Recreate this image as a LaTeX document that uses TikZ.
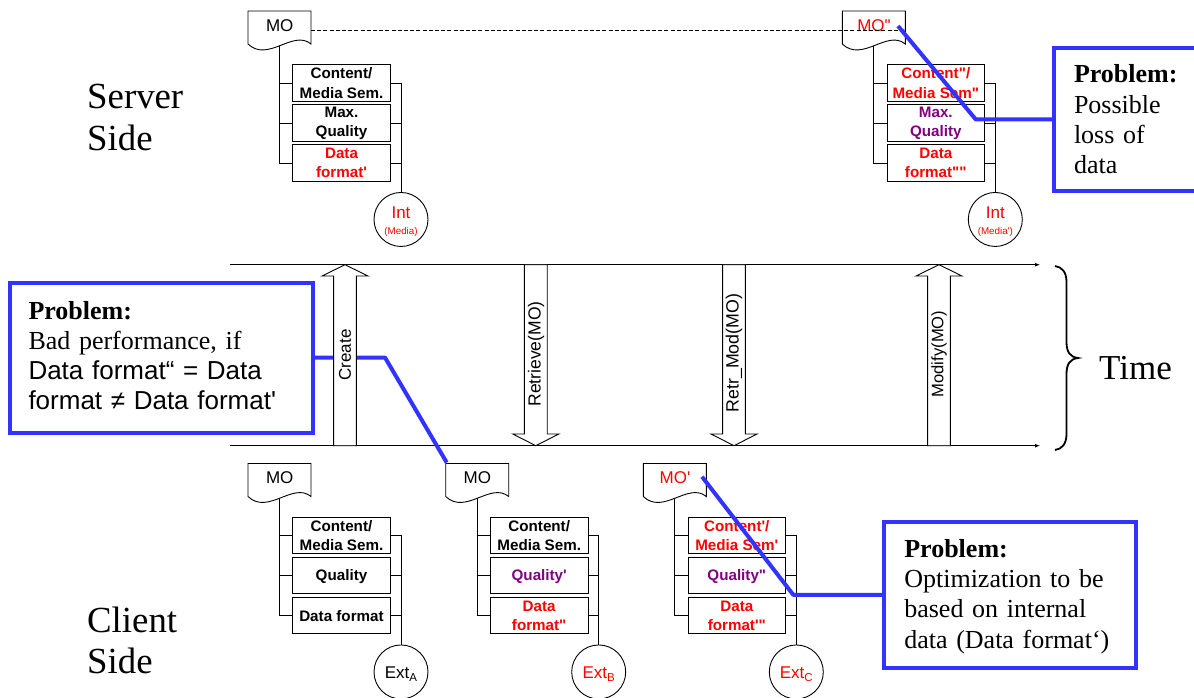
\documentclass[tikz,border=0pt]{standalone}
\usepackage{fontspec}
\newfontfamily\sansx{Liberation Sans}
\newfontfamily\serifx{Liberation Serif}
\usetikzlibrary{arrows.meta}
\definecolor{probblue}{RGB}{51,51,255}
\definecolor{purp}{RGB}{128,0,128}
\tikzset{
  x=1pt,y=-1pt,
  fld/.style={draw=black,line width=0.9pt,fill=white,minimum width=97.5pt,minimum height=36.5pt,inner sep=0pt,align=center,font=\sansx\fontsize{15.2}{19.3}\selectfont\bfseries},
  wire/.style={draw=black,line width=0.9pt},
  circ/.style={draw=black,line width=0.9pt,fill=white,circle,minimum size=54pt,inner sep=0pt,align=center,font=\sansx\fontsize{17}{17}\selectfont},
  mo/.style={font=\sansx\fontsize{17}{19}\selectfont,inner sep=0pt,minimum width=63pt,minimum height=28pt,anchor=north west},
  prob/.style={draw=probblue,line width=4pt,fill=white,inner ysep=0pt,outer sep=0pt,anchor=north west,align=left,font=\serifx\fontsize{26}{30.3}\selectfont},
  lead/.style={draw=probblue,line width=4pt,line join=round},
  bigt/.style={font=\serifx\fontsize{36.8}{40}\selectfont,inner sep=0pt,anchor=base west},
  fatarrow/.style={draw=black,line width=0.9pt,fill=white},
  alabel/.style={rotate=90,inner sep=0pt},
  timeline/.style={draw=black,line width=0.9pt,-{Latex[length=5pt,width=4pt]}},
}
\newcommand{\stackx}[8]{%
  \coordinate (#8top) at (#1+31.5,#2+30);
  \coordinate (#8out) at (#1+63,#2+19);
  \node[fld] (#8a) at (#1+93.5,#2+72) {#4};
  \node[fld] (#8b) at (#1+93.5,#2+112) {#5};
  \node[fld] (#8c) at (#1+93.5,#2+152) {#6};
  \node[circ,anchor=north] (#8d) at (#1+153,#2+181) {#7};
  \draw[wire] (#8top) |- (#8a.west);
  \draw[wire] (#8top) |- (#8b.west);
  \draw[wire] (#8top) |- (#8c.west);
  \draw[wire] (#8a.east) -| (#8d.north);
  \draw[wire] (#8b.east) -| (#8d.north);
  \draw[wire] (#8c.east) -| (#8d.north);
  \draw[wire,fill=white] (#1,#2) -- (#1+63,#2) -- (#1+63,#2+33) .. controls (#1+45,#2+18) and (#1+20,#2+52) .. (#1,#2+33) -- cycle;
  \node[mo] (#8doc) at (#1,#2) {#3};
}
\newcommand{\fatup}[1]{%
  \draw[fatarrow] (#1-11.4,445.7) -- (#1-11.4,276) -- (#1-23,276) -- (#1,264.7) -- (#1+23,276) -- (#1+11.4,276) -- (#1+11.4,445.7) -- cycle;
}
\newcommand{\fatdown}[1]{%
  \draw[fatarrow] (#1-11.4,264.7) -- (#1-11.4,434) -- (#1-23,434) -- (#1,445.7) -- (#1+23,434) -- (#1+11.4,434) -- (#1+11.4,264.7) -- cycle;
}
\newcommand{\red}[1]{\textcolor{red}{#1}}
\newcommand{\pur}[1]{\textcolor{purp}{#1}}
\newcommand{\cst}{\rule{0pt}{16pt}}
\newcommand{\fst}{\rule{0pt}{13pt}}
\newcommand{\subx}[1]{\raisebox{-3.5pt}{\fontsize{11.5}{12}\selectfont #1}}
\newcommand{\pb}{{\bfseries Problem:}}
\begin{document}
\begin{tikzpicture}
\useasboundingbox (0,0) rectangle (1194,697);
\fill[white] (0,0) rectangle (1194,697);
% big labels
\node[bigt] (server) at (87,108) {Server};
\node[bigt] (sside) at (87,150) {Side};
\node[bigt] (client) at (87,632) {Client};
\node[bigt] (cside) at (87,673) {Side};
\node[bigt,font=\serifx\fontsize{35}{40}\selectfont] (timetxt) at (1099,379) {Time};
% stacks
\stackx{248}{11}{MO}{Content/\\Media Sem.}{Max.\\Quality}{\red{Data}\\\red{format'}}{\red{\cst Int}\\[-1pt]{\color{red}\fontsize{9.8}{10}\selectfont (Media)}}{sa}
\stackx{842.3}{11}{\red{MO"}}{\red{Content"/}\\\red{Media Sem"}}{\pur{Max.}\\\pur{Quality}}{\red{Data}\\\red{format""}}{\red{\cst Int}\\[-1pt]{\color{red}\fontsize{9.8}{10}\selectfont (Media')}}{sb}
\stackx{248}{463.5}{MO}{Content/\\Media Sem.}{\fst Quality}{\fst Data format}{\cst Ext\subx{A}}{ca}
\stackx{445.7}{463.5}{MO}{Content/\\Media Sem.}{\fst\pur{Quality'}}{\red{Data}\\\red{format"}}{\cst\red{Ext\subx{B}}}{cb}
\stackx{643.3}{463.5}{\red{MO'}}{\red{Content'/}\\\red{Media Sem'}}{\fst\pur{Quality"}}{\red{Data}\\\red{format'"}}{\cst\red{Ext\subx{C}}}{cc}
% dashed
\draw[draw=black,line width=0.7pt,dash pattern=on 4pt off 2.2pt,-{Latex[length=5pt,width=4pt]}] (saout) -- (sbout);
% time lines
\coordinate (tla) at (230,264.7);
\coordinate (tlb) at (1040,264.7);
\coordinate (bla) at (230,445.7);
\coordinate (blb) at (1040,445.7);
\draw[timeline] (tla) -- (tlb);
\draw[timeline] (bla) -- (blb);
% problem boxes
\node[prob,minimum width=303.5pt,minimum height=150pt,inner xsep=19pt,text width=265.5pt] (pa) at (9.5,282.5) {\pb\\Bad performance, if\\{\sansx Data format“ = Data}\\{\sansx format ≠ Data format'}\rule[-4pt]{0pt}{4pt}};
\coordinate (pab) at (385,357.5);
\coordinate (pac) at (446.7,462.5);
\draw[lead] (pa.east) -- (pab) -- (pac);
% fat arrows
\fatup{345}
\fatdown{535.8}
\fatdown{734}
\fatup{939}
\node[alabel,font=\sansx\fontsize{17}{19}\selectfont] (create) at (345,355) {Create};
\node[alabel,font=\sansx\fontsize{17.5}{19}\selectfont] (retr) at (536,354) {Retrieve(MO)};
\node[alabel,font=\sansx\fontsize{17.8}{19}\selectfont] (retrmod) at (734,353) {Retr\_Mod(MO)};
\node[alabel,font=\sansx\fontsize{16.6}{19}\selectfont] (modify) at (939,354) {Modify(MO)};
% brace
\draw[draw=black,line width=1.8pt] (1055,266) .. controls (1062,267) and (1066.5,272) .. (1066.5,282) -- (1066.5,342) .. controls (1066.5,352) and (1070,357) .. (1078,358) .. controls (1070,359) and (1066.5,364) .. (1066.5,374) -- (1066.5,434) .. controls (1066.5,444) and (1062,449) .. (1055,450);
% right problem
\node[prob,minimum width=170pt,minimum height=142.7pt,inner xsep=20pt,text width=130pt] (pb) at (1054,48) {\pb\\Possible\\loss of\\data};
\coordinate (pbs) at (898,26);
\coordinate (pbb) at (975.7,119.35);
\draw[lead] (pbs) -- (pbb) -- (pb.west);
% bottom problem
\node[prob,minimum width=251.7pt,minimum height=146.3pt,inner xsep=20pt,text width=211.7pt] (pc) at (884.3,521.7) {\rule{0pt}{21pt}\pb\\Optimization to be\\based on internal\\data (Data format‘)};
\coordinate (pcs) at (702,476.7);
\coordinate (pcb) at (793.3,594.85);
\draw[lead] (pcs) -- (pcb) -- (pc.west);
\end{tikzpicture}
\end{document}
